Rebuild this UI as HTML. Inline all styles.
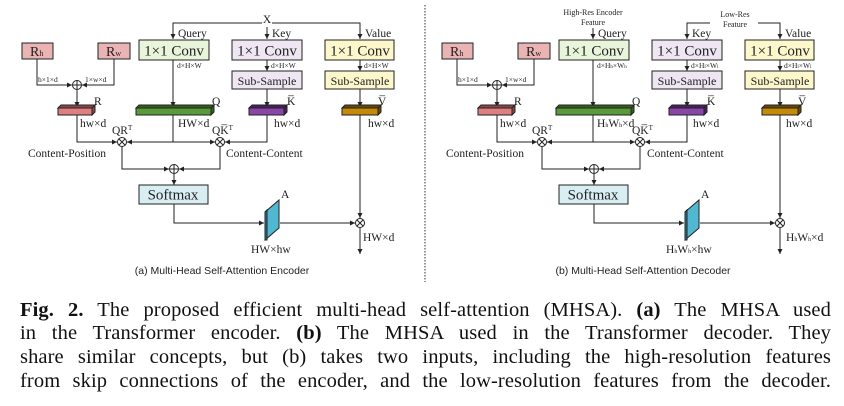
<!DOCTYPE html>
<html><head><meta charset="utf-8"><style>
html,body{margin:0;padding:0;background:#fff;width:844px;height:406px;overflow:hidden}
svg{position:absolute;left:0;top:0}
.cap{position:absolute;left:20px;width:811px;font-family:"Liberation Serif",serif;font-size:20.5px;color:#111;text-align:justify;text-align-last:justify;white-space:nowrap;line-height:23px;letter-spacing:0.1px}
</style></head><body>
<svg width="844" height="290" viewBox="0 0 844 290" font-family="Liberation Serif, serif" fill="#222">
<defs><marker id="a" markerWidth="6" markerHeight="6" refX="5" refY="3" orient="auto" markerUnits="userSpaceOnUse"><path d="M0,0.5 L5,3 L0,5.5z" fill="#222"/></marker></defs>
<line x1="425" y1="5" x2="425" y2="282" stroke="#333" stroke-dasharray="1.5,1.5"/>
<!-- LEFT PANEL -->
<g stroke="#222" stroke-width="1" fill="none">
<polyline points="173,39 173,23 262,23"/><line x1="173" y1="30" x2="173" y2="39" marker-end="url(#a)"/>
<polyline points="272,23 360,23 360,39" marker-end="url(#a)"/>
<line x1="267" y1="27" x2="267" y2="39" marker-end="url(#a)"/>
<rect x="22" y="43" width="31" height="16" fill="#ebb4b4"/>
<rect x="98" y="43" width="32" height="16" fill="#ebb4b4"/>
<rect x="139" y="40" width="70" height="20" fill="#e8f5db"/>
<rect x="232" y="40" width="70" height="20" fill="#eee6f3"/>
<rect x="325" y="40" width="69" height="20" fill="#fdf7cc"/>
<line x1="267" y1="60" x2="267" y2="71" marker-end="url(#a)"/>
<line x1="360" y1="60" x2="360" y2="71" marker-end="url(#a)"/>
<rect x="232" y="71" width="70" height="18" fill="#eee6f3"/>
<rect x="325" y="71" width="69" height="18" fill="#fdf7cc"/>
<polyline points="37,59 37,85 72,85" marker-end="url(#a)"/>
<polyline points="114,59 114,85 82,85" marker-end="url(#a)"/>
<circle cx="77" cy="85" r="4.5"/><path d="M72.5,85h9M77,80.5v9"/>
<line x1="77" y1="90" x2="77" y2="107" marker-end="url(#a)"/>
<line x1="173" y1="60" x2="173" y2="107" marker-end="url(#a)"/>
<line x1="267" y1="89" x2="267" y2="107" marker-end="url(#a)"/>
<line x1="360" y1="89" x2="360" y2="107" marker-end="url(#a)"/>
<rect x="58" y="108" width="34" height="7" fill="#e07f7f"/><path d="M58,108l3,-3h34l-3,3zM92,108l3,-3v7l-3,3z" fill="#8a4a4a"/>
<rect x="136" y="108" width="75" height="7" fill="#5a9a3a"/><path d="M136,108l3,-3h75l-3,3zM211,108l3,-3v7l-3,3z" fill="#35601f"/>
<rect x="249" y="108" width="35" height="7" fill="#8a45a8"/><path d="M249,108l3,-3h35l-3,3zM284,108l3,-3v7l-3,3z" fill="#4c2060"/>
<rect x="342" y="108" width="36" height="7" fill="#c48a0a"/><path d="M342,108l3,-3h36l-3,3zM378,108l3,-3v7l-3,3z" fill="#6a4a00"/>
<polyline points="77,115 77,142 117,142" marker-end="url(#a)"/>
<line x1="173" y1="115" x2="173" y2="142"/>
<line x1="173" y1="142" x2="127" y2="142" marker-end="url(#a)"/>
<line x1="173" y1="142" x2="215" y2="142" marker-end="url(#a)"/>
<polyline points="267,115 267,142 225,142" marker-end="url(#a)"/>
<circle cx="122" cy="142" r="4.5"/><path d="M119,139l6,6M125,139l-6,6"/>
<circle cx="220" cy="142" r="4.5"/><path d="M217,139l6,6M223,139l-6,6"/>
<polyline points="122,147 122,169 169,169" marker-end="url(#a)"/>
<polyline points="220,147 220,169 179,169" marker-end="url(#a)"/>
<circle cx="174" cy="169" r="4.5"/><path d="M169.5,169h9M174,164.5v9"/>
<line x1="174" y1="174" x2="174" y2="185" marker-end="url(#a)"/>
<rect x="139" y="185" width="69" height="19" fill="#d8eef3"/>
<polyline points="174,204 174,223 264,223" marker-end="url(#a)"/>
<path d="M265,212l14,-12v28l-14,12z" fill="#52b7d1"/><path d="M265,212l2,-2v30l-2,0z" fill="#2a7f99"/>
<line x1="280" y1="223" x2="355" y2="223" marker-end="url(#a)"/>
<line x1="360" y1="115" x2="360" y2="218" marker-end="url(#a)"/>
<circle cx="360" cy="223" r="4.5"/><path d="M357,220l6,6M363,220l-6,6"/>
<line x1="360" y1="228" x2="360" y2="254" marker-end="url(#a)"/>
</g>
<g font-size="11.5">
<text x="267" y="23" text-anchor="middle" font-size="11.5">X</text>
<text x="178" y="37">Query</text><text x="272" y="37">Key</text><text x="365" y="37">Value</text>
<text x="30" y="56" font-size="14">R<tspan font-size="8">h</tspan></text>
<text x="106" y="56" font-size="14">R<tspan font-size="8">w</tspan></text>
<text x="174" y="55.5" text-anchor="middle" font-size="15">1×1 Conv</text>
<text x="267" y="55.5" text-anchor="middle" font-size="15">1×1 Conv</text>
<text x="360" y="55.5" text-anchor="middle" font-size="15">1×1 Conv</text>
<text x="177" y="68" font-size="7.5">d×H×W</text><text x="271" y="68" font-size="7.5">d×H×W</text><text x="364" y="68" font-size="7.5">d×H×W</text>
<text x="267" y="85" text-anchor="middle" font-size="12">Sub-Sample</text>
<text x="360" y="85" text-anchor="middle" font-size="12">Sub-Sample</text>
<text x="38" y="82" font-size="7.5">h×1×d</text><text x="85" y="82" font-size="7.5">1×w×d</text>
<text x="94" y="105">R</text><text x="212" y="105">Q</text><text x="287" y="105">K̅</text><text x="378" y="105">V̅</text>
<text x="80" y="127">hw×d</text><text x="178" y="127">HW×d</text><text x="274" y="127">hw×d</text><text x="368" y="127">hw×d</text>
<text x="112" y="134">QR<tspan font-size="7" dy="-4">T</tspan></text>
<text x="212" y="134">QK̅<tspan font-size="7" dy="-4">T</tspan></text>
<text x="28" y="157">Content-Position</text><text x="226" y="157">Content-Content</text>
<text x="173" y="199.5" text-anchor="middle" font-size="15">Softmax</text>
<text x="281" y="198">A</text>
<text x="251" y="253">HW×hw</text><text x="363" y="241">HW×d</text>
</g>
<text x="222" y="274" text-anchor="middle" font-family="Liberation Sans, sans-serif" font-size="10.5" fill="#222">(a) Multi-Head Self-Attention Encoder</text>

<!-- RIGHT PANEL -->
<g transform="translate(420,0)">
<g stroke="#222" stroke-width="1" fill="none">
<line x1="173" y1="28" x2="173" y2="39" marker-end="url(#a)"/>
<polyline points="290,23 267,23 267,39" marker-end="url(#a)"/>
<polyline points="338,23 360,23 360,39" marker-end="url(#a)"/>
<rect x="22" y="43" width="31" height="16" fill="#ebb4b4"/>
<rect x="98" y="43" width="32" height="16" fill="#ebb4b4"/>
<rect x="139" y="40" width="70" height="20" fill="#e8f5db"/>
<rect x="232" y="40" width="70" height="20" fill="#eee6f3"/>
<rect x="325" y="40" width="69" height="20" fill="#fdf7cc"/>
<line x1="267" y1="60" x2="267" y2="71" marker-end="url(#a)"/>
<line x1="360" y1="60" x2="360" y2="71" marker-end="url(#a)"/>
<rect x="232" y="71" width="70" height="18" fill="#eee6f3"/>
<rect x="325" y="71" width="69" height="18" fill="#fdf7cc"/>
<polyline points="37,59 37,85 72,85" marker-end="url(#a)"/>
<polyline points="114,59 114,85 82,85" marker-end="url(#a)"/>
<circle cx="77" cy="85" r="4.5"/><path d="M72.5,85h9M77,80.5v9"/>
<line x1="77" y1="90" x2="77" y2="107" marker-end="url(#a)"/>
<line x1="173" y1="60" x2="173" y2="107" marker-end="url(#a)"/>
<line x1="267" y1="89" x2="267" y2="107" marker-end="url(#a)"/>
<line x1="360" y1="89" x2="360" y2="107" marker-end="url(#a)"/>
<rect x="58" y="108" width="34" height="7" fill="#e07f7f"/><path d="M58,108l3,-3h34l-3,3zM92,108l3,-3v7l-3,3z" fill="#8a4a4a"/>
<rect x="136" y="108" width="75" height="7" fill="#5a9a3a"/><path d="M136,108l3,-3h75l-3,3zM211,108l3,-3v7l-3,3z" fill="#35601f"/>
<rect x="249" y="108" width="35" height="7" fill="#8a45a8"/><path d="M249,108l3,-3h35l-3,3zM284,108l3,-3v7l-3,3z" fill="#4c2060"/>
<rect x="342" y="108" width="36" height="7" fill="#c48a0a"/><path d="M342,108l3,-3h36l-3,3zM378,108l3,-3v7l-3,3z" fill="#6a4a00"/>
<polyline points="77,115 77,142 117,142" marker-end="url(#a)"/>
<line x1="173" y1="115" x2="173" y2="142"/>
<line x1="173" y1="142" x2="127" y2="142" marker-end="url(#a)"/>
<line x1="173" y1="142" x2="215" y2="142" marker-end="url(#a)"/>
<polyline points="267,115 267,142 225,142" marker-end="url(#a)"/>
<circle cx="122" cy="142" r="4.5"/><path d="M119,139l6,6M125,139l-6,6"/>
<circle cx="220" cy="142" r="4.5"/><path d="M217,139l6,6M223,139l-6,6"/>
<polyline points="122,147 122,169 169,169" marker-end="url(#a)"/>
<polyline points="220,147 220,169 179,169" marker-end="url(#a)"/>
<circle cx="174" cy="169" r="4.5"/><path d="M169.5,169h9M174,164.5v9"/>
<line x1="174" y1="174" x2="174" y2="185" marker-end="url(#a)"/>
<rect x="139" y="185" width="69" height="19" fill="#d8eef3"/>
<polyline points="174,204 174,223 264,223" marker-end="url(#a)"/>
<path d="M265,212l14,-12v28l-14,12z" fill="#52b7d1"/><path d="M265,212l2,-2v30l-2,0z" fill="#2a7f99"/>
<line x1="280" y1="223" x2="355" y2="223" marker-end="url(#a)"/>
<line x1="360" y1="115" x2="360" y2="218" marker-end="url(#a)"/>
<circle cx="360" cy="223" r="4.5"/><path d="M357,220l6,6M363,220l-6,6"/>
<line x1="360" y1="228" x2="360" y2="254" marker-end="url(#a)"/>
</g>
<g font-size="11.5">
<text x="173" y="15" text-anchor="middle" font-size="8">High-Res Encoder</text>
<text x="173" y="25" text-anchor="middle" font-size="8">Feature</text>
<text x="315" y="17" text-anchor="middle" font-size="8">Low-Res</text>
<text x="315" y="27" text-anchor="middle" font-size="8">Feature</text>
<text x="178" y="37">Query</text><text x="272" y="37">Key</text><text x="365" y="37">Value</text>
<text x="30" y="56" font-size="14">R<tspan font-size="8">h</tspan></text>
<text x="106" y="56" font-size="14">R<tspan font-size="8">w</tspan></text>
<text x="174" y="55.5" text-anchor="middle" font-size="15">1×1 Conv</text>
<text x="267" y="55.5" text-anchor="middle" font-size="15">1×1 Conv</text>
<text x="360" y="55.5" text-anchor="middle" font-size="15">1×1 Conv</text>
<text x="177" y="68" font-size="7.5">d×H<tspan font-size="5">h</tspan>×W<tspan font-size="5">h</tspan></text>
<text x="271" y="68" font-size="7.5">d×H<tspan font-size="5">l</tspan>×W<tspan font-size="5">l</tspan></text>
<text x="364" y="68" font-size="7.5">d×H<tspan font-size="5">l</tspan>×W<tspan font-size="5">l</tspan></text>
<text x="267" y="85" text-anchor="middle" font-size="12">Sub-Sample</text>
<text x="360" y="85" text-anchor="middle" font-size="12">Sub-Sample</text>
<text x="38" y="82" font-size="7.5">h×1×d</text><text x="85" y="82" font-size="7.5">1×w×d</text>
<text x="94" y="105">R</text><text x="212" y="105">Q</text><text x="287" y="105">K̅</text><text x="378" y="105">V̅</text>
<text x="80" y="127">hw×d</text><text x="177" y="127">H<tspan font-size="6">h</tspan>W<tspan font-size="6">h</tspan>×d</text><text x="273" y="127">hw×d</text><text x="366" y="127">hw×d</text>
<text x="112" y="134">QR<tspan font-size="7" dy="-4">T</tspan></text>
<text x="212" y="134">QK̅<tspan font-size="7" dy="-4">T</tspan></text>
<text x="26" y="157">Content-Position</text><text x="227" y="157">Content-Content</text>
<text x="173" y="199.5" text-anchor="middle" font-size="15">Softmax</text>
<text x="281" y="198">A</text>
<text x="246" y="253">H<tspan font-size="6">h</tspan>W<tspan font-size="6">h</tspan>×hw</text><text x="366" y="241">H<tspan font-size="6">h</tspan>W<tspan font-size="6">h</tspan>×d</text>
</g>
<text x="223" y="274" text-anchor="middle" font-family="Liberation Sans, sans-serif" font-size="10.5" fill="#222">(b) Multi-Head Self-Attention Decoder</text>
</g>
</svg>
<div class="cap" style="top:299px"><b>Fig. 2.</b> The proposed efficient multi-head self-attention (MHSA). <b>(a)</b> The MHSA used</div>
<div class="cap" style="top:322px">in the Transformer encoder. <b>(b)</b> The MHSA used in the Transformer decoder. They</div>
<div class="cap" style="top:346px">share similar concepts, but (b) takes two inputs, including the high-resolution features</div>
<div class="cap" style="top:370px">from skip connections of the encoder, and the low-resolution features from the decoder.</div>
</body></html>
